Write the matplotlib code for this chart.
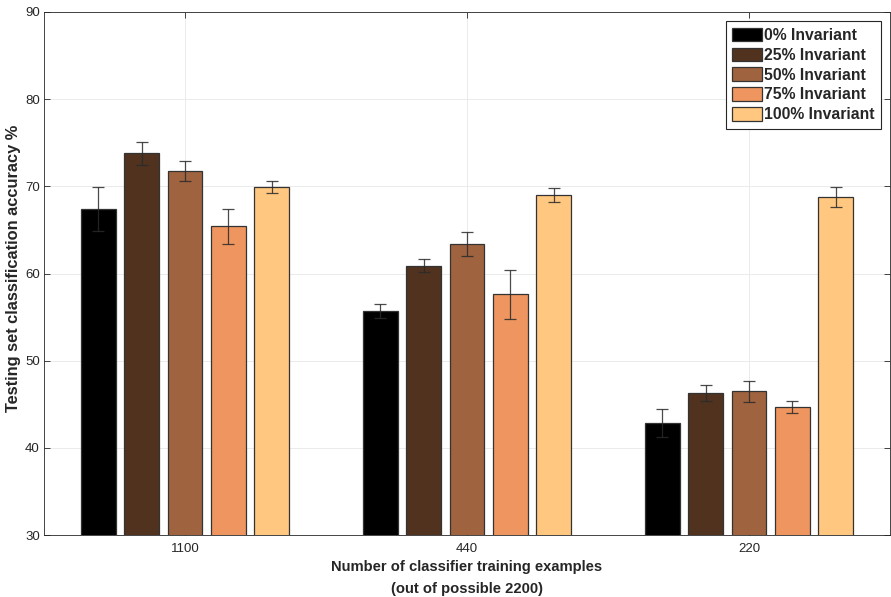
import numpy as np
import matplotlib
matplotlib.use("Agg")
import matplotlib.pyplot as plt

plt.rcParams["font.family"] = ["Liberation Sans", "DejaVu Sans"]

# ------------------------------------------------------------------
# Data
# ------------------------------------------------------------------
groups = ["1100", "440", "220"]
series = ["0% Invariant", "25% Invariant", "50% Invariant", "75% Invariant", "100% Invariant"]

acc_0 = [67.4, 55.7, 42.8]
acc_25 = [73.8, 60.9, 46.3]
acc_50 = [71.8, 63.4, 46.5]
acc_75 = [65.4, 57.6, 44.65]
acc_100 = [69.9, 69.0, 68.8]

err_0 = [2.5, 0.85, 1.6]
err_25 = [1.3, 0.75, 0.9]
err_50 = [1.15, 1.4, 1.2]
err_75 = [2.0, 2.85, 0.7]
err_100 = [0.7, 0.8, 1.15]

values = [acc_0, acc_25, acc_50, acc_75, acc_100]
errors = [err_0, err_25, err_50, err_75, err_100]

# copper colormap levels (MATLAB style)
COLORS = ["#000000", "#50321F", "#9F643F", "#EF955F", "#FFC77F"]
TEXT = "#262626"
GRID = "#EBEBEB"

fig = plt.figure(figsize=(8.91, 5.97), dpi=100)
ax = fig.add_axes([44 / 891, 62 / 597, 846 / 891, 523 / 597])

x = np.arange(1, len(groups) + 1)
n = len(series)
group_w = min(0.8, n / (n + 1.5))
step = group_w / n
bar_w = step * 0.8

for i, (vals, errs) in enumerate(zip(values, errors)):
    pos = x - group_w / 2 + step * (i + 0.5)
    ax.bar(pos, vals, width=bar_w, bottom=0, color=COLORS[i], edgecolor="#333333",
           linewidth=0.9, label=series[i], zorder=3)
    ax.errorbar(pos, vals, yerr=errs, fmt="none", ecolor="#2a2a2a", elinewidth=0.9,
                capsize=4.3, capthick=0.9, alpha=0.85, zorder=4)

ax.set_xlim(0.5, 3.5)
ax.set_ylim(30, 90)
ax.set_xticks(x)
ax.set_xticklabels(groups)
ax.set_yticks(range(30, 91, 10))

ax.tick_params(direction="in", length=4, width=0.6, colors=TEXT, labelsize=9.5,
               top=True, right=True, pad=6)
ax.tick_params(axis="y", pad=3)
for spine in ax.spines.values():
    spine.set_edgecolor("#262626")
    spine.set_linewidth(0.6)
    spine.set_zorder(5)

ax.grid(True, color=GRID, linewidth=0.7, zorder=0)
ax.set_axisbelow(True)

ax.set_ylabel("Testing set classification accuracy %", fontsize=11.8, fontweight="bold",
              color=TEXT, labelpad=5)
ax.yaxis.set_label_coords(-0.027, 0.51)
ax.set_xlabel("Number of classifier training examples\n(out of possible 2200)",
              fontsize=10.6, fontweight="bold", color=TEXT, labelpad=3.5, linespacing=1.7)

leg = ax.legend(loc="upper right", prop={"weight": "bold", "size": 11.3},
                handlelength=1.9, handleheight=0.95, handletextpad=0.12,
                labelspacing=0.3, borderpad=0.4, borderaxespad=0.6,
                fancybox=False, framealpha=1, edgecolor="#262626")
leg.get_frame().set_linewidth(0.8)
for t in leg.get_texts():
    t.set_color(TEXT)

fig.savefig("out.png", dpi=100, facecolor="white")
